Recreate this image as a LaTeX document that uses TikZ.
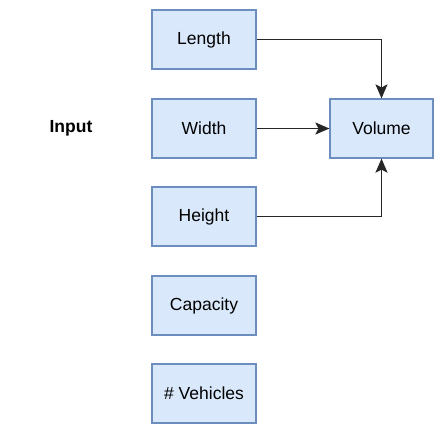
\documentclass[tikz,border=0pt]{standalone}
\usepackage{fontspec}
\setmainfont{Liberation Sans}
\usetikzlibrary{arrows.meta}
\definecolor{boxfill}{HTML}{DAE8FC}
\definecolor{boxline}{HTML}{6C8EBF}
\begin{document}
\begin{tikzpicture}[x=1pt,y=-1pt,
  box/.style={draw=boxline,fill=boxfill,line width=1.2pt,minimum width=104pt,minimum height=59pt,inner sep=0pt,font=\fontsize{17.5}{20}\selectfont},
  conn/.style={line width=1.7pt,draw=black!85,-{Stealth[length=14pt,width=12pt,inset=3pt]}}]
\useasboundingbox (0,0) rectangle (446,432);
\node[box] (len) at (204,39.5) {Length};
\node[box] (wid) at (204,128.5) {Width};
\node[box] (hei) at (204,216.5) {Height};
\node[box] (cap) at (204,305.5) {Capacity};
\node[box] (veh) at (204,393.5) {\# Vehicles};
\node[box,minimum width=103pt] (vol) at (381.5,128.5) {Volume};
\node[font=\fontsize{17.5}{20}\selectfont\bfseries] (inp) at (71,128) {Input};
\draw[conn] (len.east) -| (vol.north);
\draw[conn] (wid.east) -- (vol.west);
\draw[conn] (hei.east) -| (vol.south);
\end{tikzpicture}
\end{document}
